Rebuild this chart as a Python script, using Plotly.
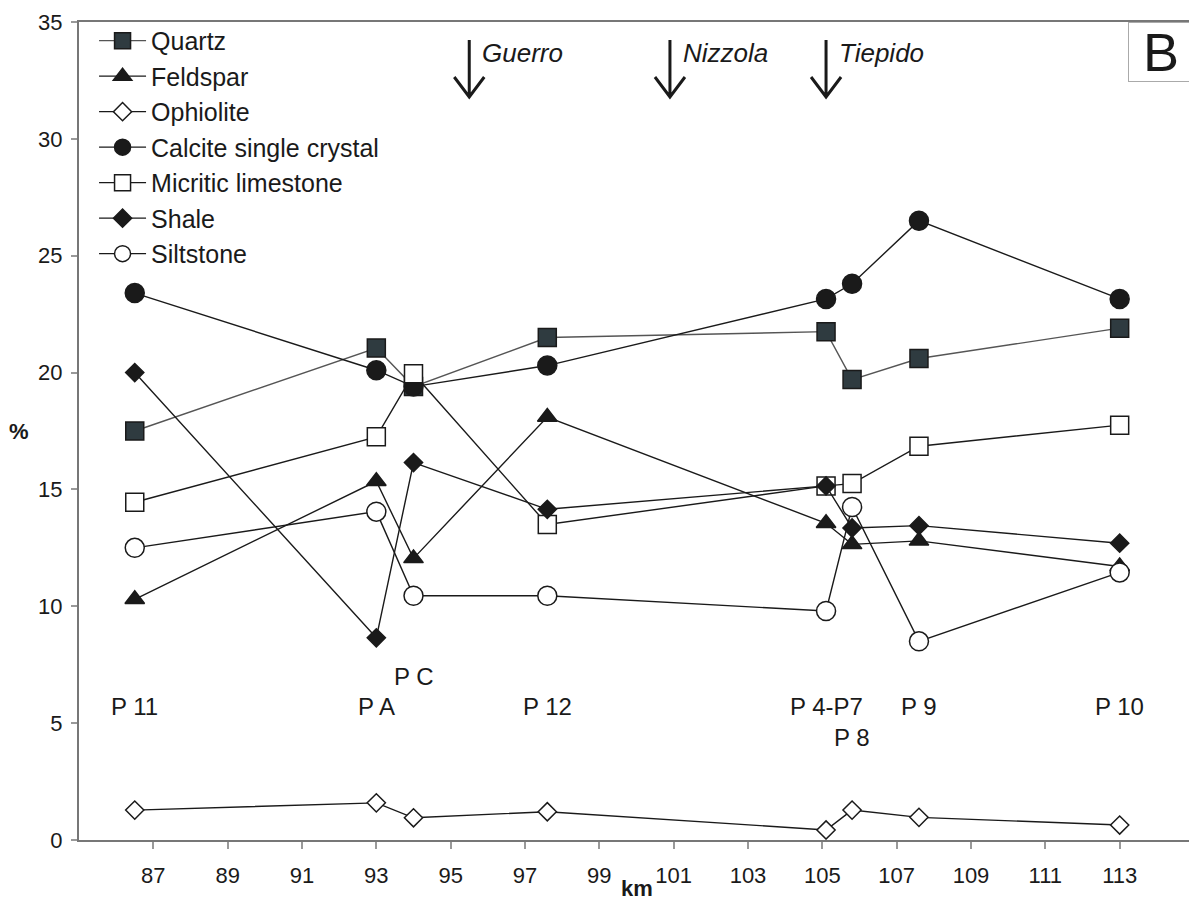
import plotly.graph_objects as go

# ---- data ----
km = [86.5, 93.0, 94.0, 97.6, 105.1, 105.8, 107.6, 113.0]
site_labels = ["P 11", "P A", "P C", "P 12", "P 4-P7", "P 8", "P 9", "P 10"]
label_levels = [5.7, 5.7, 7.0, 5.7, 5.7, 4.4, 5.7, 5.7]

quartz = [17.5, 21.05, 19.4, 21.5, 21.75, 19.7, 20.6, 21.9]
feldspar = [10.3, 15.35, 12.05, 18.1, 13.55, 12.65, 12.8, 11.7]
ophiolite = [1.28, 1.59, 0.95, 1.21, 0.43, 1.28, 0.97, 0.64]
calcite = [23.4, 20.1, 19.4, 20.3, 23.15, 23.8, 26.5, 23.15]
micritic = [14.45, 17.25, 19.95, 13.5, 15.15, 15.25, 16.85, 17.75]
shale = [20.0, 8.65, 16.15, 14.15, 15.15, 13.35, 13.45, 12.7]
siltstone = [12.5, 14.05, 10.45, 10.45, 9.8, 14.25, 8.5, 11.45]

rivers = ["Guerro", "Nizzola", "Tiepido"]
river_km = [95.5, 100.9, 105.1]

x_ticks = list(range(87, 114, 2))
y_ticks = list(range(0, 36, 5))

FONT = "Arial, Liberation Sans, Helvetica, sans-serif"
BLACK = "#1a1a1a"

series = [
    ("Quartz", quartz, "square", 18, "#2f3b40", "#555555", BLACK),
    ("Feldspar", feldspar, "triangle-up", 17, BLACK, BLACK, BLACK),
    ("Ophiolite", ophiolite, "diamond", 14, "white", BLACK, BLACK),
    ("Calcite single crystal", calcite, "circle", 19, BLACK, BLACK, BLACK),
    ("Micritic limestone", micritic, "square", 18, "white", BLACK, BLACK),
    ("Shale", shale, "diamond", 14, BLACK, BLACK, BLACK),
    ("Siltstone", siltstone, "circle", 19, "white", BLACK, BLACK),
]

fig = go.Figure()
for name, vals, sym, size, fill, lcol, mline in series:
    fig.add_trace(go.Scatter(
        x=km, y=vals, name=name, mode="lines+markers",
        line=dict(color=lcol, width=1.4),
        marker=dict(symbol=sym, size=size, color=fill,
                    line=dict(color=mline, width=1.5)),
    ))

annotations = []
for lab, xv, yv in zip(site_labels, km, label_levels):
    annotations.append(dict(x=xv, y=yv, xref="x", yref="y", text=lab,
                            showarrow=False, font=dict(size=24, color=BLACK, family=FONT)))

shapes = []
for name, xv in zip(rivers, river_km):
    shapes.append(dict(type="path", xref="x", yref="y", xsizemode="pixel", ysizemode="pixel",
                       xanchor=xv, yanchor=35,
                       path="M0,-18 L0,-74 M-15,-55 L0,-75 L15,-55",
                       line=dict(color=BLACK, width=3)))
    annotations.append(dict(x=xv, y=35, xref="x", yref="y", text="<i>" + name + "</i>",
                            showarrow=False, xanchor="left", yanchor="middle",
                            xshift=11, yshift=-31,
                            font=dict(size=26, color=BLACK, family=FONT)))

# panel letter
annotations.append(dict(x=1, y=1, xref="paper", yref="paper", text="B", showarrow=False,
                        xanchor="right", yanchor="top", width=64, height=58,
                        bordercolor="#aaaaaa", borderwidth=1, borderpad=0,
                        font=dict(size=54, color=BLACK, family=FONT)))

annotations.append(dict(x=100, y=0, xref="x", yref="paper", text="<b>km</b>", showarrow=False,
                        yshift=-48, yanchor="middle", font=dict(size=22, color=BLACK, family=FONT)))
annotations.append(dict(x=0, y=17.5, xref="paper", yref="y", text="<b>%</b>", showarrow=False,
                        xshift=-60, xanchor="center", font=dict(size=22, color=BLACK, family=FONT)))

# page body has an 8px margin; size the figure so it fills the 1197x902 window
fig.update_layout(
    width=1189, height=894,
    margin=dict(l=71, r=1, t=14, b=62),
    paper_bgcolor="white", plot_bgcolor="white",
    font=dict(family=FONT, size=22, color=BLACK),
    showlegend=True,
    legend=dict(x=0.0135, y=1.005, xanchor="left", yanchor="top",
                bgcolor="rgba(0,0,0,0)", font=dict(size=25, family=FONT, color=BLACK),
                itemwidth=47, tracegroupgap=0),
    xaxis=dict(range=[85, 115], tickvals=x_ticks, showgrid=False, zeroline=False,
               showline=True, linecolor="#777777", linewidth=2, mirror=True,
               ticks="outside", ticklen=7, tickcolor="#999999", tickwidth=1.5,
               ticklabelstandoff=8,
               tickfont=dict(size=22, color=BLACK, family=FONT)),
    yaxis=dict(range=[0, 35], tickvals=y_ticks, showgrid=False, zeroline=False,
               showline=True, linecolor="#777777", linewidth=2, mirror=True,
               ticks="outside", ticklen=6, tickcolor="#999999", tickwidth=1.5,
               ticklabelstandoff=4,
               tickfont=dict(size=22, color=BLACK, family=FONT)),
    annotations=annotations, shapes=shapes,
)

fig.write_html("out.html")
